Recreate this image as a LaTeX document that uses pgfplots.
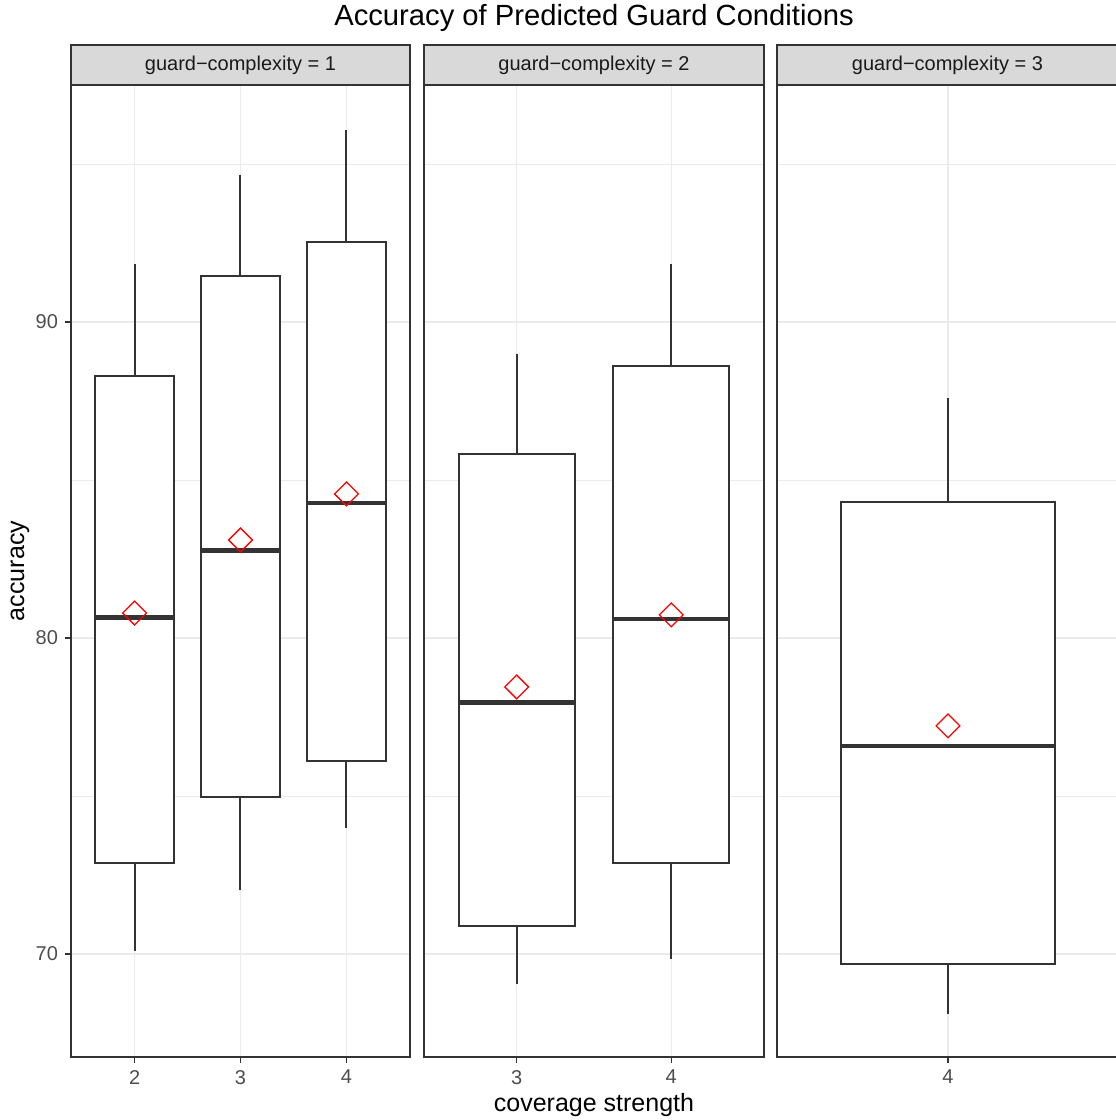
\documentclass[border=0pt]{standalone}
\usepackage{pgfplots}
\pgfplotsset{compat=1.18}
\usepackage{fontspec}
\setmainfont{Liberation Sans}
\definecolor{grey20}{HTML}{333333}
\definecolor{grey30}{HTML}{4D4D4D}
\definecolor{grey85}{HTML}{D9D9D9}
\definecolor{grey92}{HTML}{EBEBEB}
\definecolor{grey10}{HTML}{1A1A1A}
\pgfplotsset{
  facet/.style={
    scale only axis, anchor=north west,
    width=170pt, height=486pt,
    ymin=66.74, ymax=97.5,
    ytick={70,80,90}, minor ytick={75,85,95},
    ymajorgrids, yminorgrids, xmajorgrids,
    major grid style={grey92, line width=0.6pt},
    minor grid style={grey92, line width=0.3pt},
    minor tick length=0pt,
    axis line style={grey20, line width=1pt},
    tick style={grey20, line width=0.6pt},
    major tick length=3pt,
    tick align=outside,
    xtick pos=bottom, ytick pos=left,
    ticklabel style={font=\fontsize{10pt}{12pt}\selectfont, text=grey30},
    /pgf/number format/assume math mode=true,
    clip=false,
  },
  bx/.style={draw=grey20, fill=white, line width=1pt, line join=miter, line cap=rect, mark=none, solid},
  wh/.style={draw=grey20, line width=1pt, mark=none, solid},
  md/.style={draw=grey20, line width=2.4pt, mark=none, solid},
  mn/.style={only marks, mark=square, mark size=4.2pt, mark options={rotate=45, draw=red, fill=none, line width=0.65pt, solid}},
}
\begin{document}
\begin{tikzpicture}
\useasboundingbox (0pt,0pt) rectangle (557.5pt,560pt);
% Title
\node[font=\fontsize{14.6pt}{17pt}\selectfont, text=black] at (297pt,551pt) {Accuracy of Predicted Guard Conditions};
% axis labels
\node[font=\fontsize{12.5pt}{15pt}\selectfont, rotate=90] at (10pt,274.5pt) {accuracy};
\node[font=\fontsize{12.5pt}{15pt}\selectfont] at (297pt,7.5pt) {coverage strength};

% Panel 1
\begin{axis}[facet, at={(35.5pt,517.5pt)}, width=169.5pt,
  xmin=1.4, xmax=4.6, xtick={2,3,4}]
% x = 2
\addplot[wh] coordinates {(2,70.10) (2,72.88)};
\addplot[wh] coordinates {(2,88.29) (2,91.84)};
\addplot[bx] coordinates {(1.625,72.88) (2.375,72.88) (2.375,88.29) (1.625,88.29) (1.625,72.88)};
\addplot[md] coordinates {(1.625,80.66) (2.375,80.66)};
% x = 3
\addplot[wh] coordinates {(3,72.03) (3,74.97)};
\addplot[wh] coordinates {(3,91.46) (3,94.65)};
\addplot[bx] coordinates {(2.625,74.97) (3.375,74.97) (3.375,91.46) (2.625,91.46) (2.625,74.97)};
\addplot[md] coordinates {(2.625,82.78) (3.375,82.78)};
% x = 4
\addplot[wh] coordinates {(4,73.99) (4,76.11)};
\addplot[wh] coordinates {(4,92.53) (4,96.08)};
\addplot[bx] coordinates {(3.625,76.11) (4.375,76.11) (4.375,92.53) (3.625,92.53) (3.625,76.11)};
\addplot[md] coordinates {(3.625,84.27) (4.375,84.27)};
\addplot[mn] coordinates {(2,80.79) (3,83.10) (4,84.56)};
\end{axis}

% Panel 2
\begin{axis}[facet, at={(212pt,517.5pt)},
  xmin=2.4, xmax=4.6, xtick={3,4}, yticklabels={}, y tick style={draw=none}]
% x = 3
\addplot[wh] coordinates {(3,69.05) (3,70.89)};
\addplot[wh] coordinates {(3,85.82) (3,88.99)};
\addplot[bx] coordinates {(2.625,70.89) (3.375,70.89) (3.375,85.82) (2.625,85.82) (2.625,70.89)};
\addplot[md] coordinates {(2.625,77.97) (3.375,77.97)};
% x = 4
\addplot[wh] coordinates {(4,69.84) (4,72.88)};
\addplot[wh] coordinates {(4,88.61) (4,91.84)};
\addplot[bx] coordinates {(3.625,72.88) (4.375,72.88) (4.375,88.61) (3.625,88.61) (3.625,72.88)};
\addplot[md] coordinates {(3.625,80.60) (4.375,80.60)};
\addplot[mn] coordinates {(3,78.45) (4,80.73)};
\end{axis}

% Panel 3 (its right border lies just outside the picture, as in the reference)
\begin{axis}[facet, at={(388.5pt,517.5pt)}, width=171pt,
  xmin=3.4, xmax=4.6, xtick={4}, yticklabels={}, y tick style={draw=none}]
\addplot[wh] coordinates {(4,68.10) (4,69.68)};
\addplot[wh] coordinates {(4,84.30) (4,87.59)};
\addplot[bx] coordinates {(3.625,69.68) (4.375,69.68) (4.375,84.30) (3.625,84.30) (3.625,69.68)};
\addplot[md] coordinates {(3.625,76.58) (4.375,76.58)};
\addplot[mn] coordinates {(4,77.22)};
\end{axis}

% Strips
\foreach \l/\r/\t in {35.5/205/1, 212/382/2, 388.5/559.5/3}{
  \draw[grey20, line width=1pt, fill=grey85] (\l pt,517.5pt) rectangle (\r pt,537.5pt);
}
\foreach \c/\t in {120.25/1, 297/2, 473.75/3}{
  \node[font=\fontsize{10pt}{12pt}\selectfont, text=grey10] at (\c pt,527.5pt) {guard−complexity = \t};
}
\end{tikzpicture}
\end{document}
